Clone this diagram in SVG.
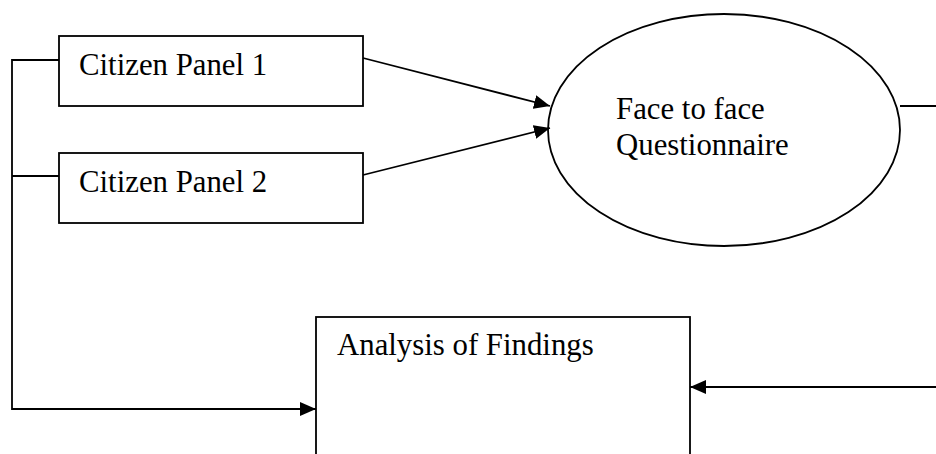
<svg xmlns="http://www.w3.org/2000/svg" width="936" height="454" viewBox="0 0 936 454">
<style>
.shape{fill:#fff;stroke:#000;stroke-width:1.8}
.conn{fill:none;stroke:#000;stroke-width:1.8}
text{font-family:"Liberation Serif","Times New Roman",serif;font-size:30.8px;fill:#000}
</style>
<defs>
<marker id="arr" markerUnits="userSpaceOnUse" markerWidth="16" markerHeight="14" refX="16" refY="7" orient="auto">
<path d="M0,0 L16,7 L0,14 Z" fill="#000"/>
</marker>
</defs>
<rect width="936" height="454" fill="#fff"/>
<g id="panel1">
<rect class="shape" x="59" y="36" width="304" height="70"/>
<text x="79" y="75">Citizen Panel 1</text>
</g>
<g id="panel2">
<rect class="shape" x="59" y="153" width="304" height="70"/>
<text x="79" y="192">Citizen Panel 2</text>
</g>
<g id="questionnaire">
<ellipse class="shape" cx="724" cy="130" rx="176" ry="116"/>
<text x="616" y="119">Face to face</text>
<text x="616" y="155">Questionnaire</text>
</g>
<g id="analysis">
<rect class="shape" x="316" y="317" width="374" height="160"/>
<text x="337" y="355">Analysis of Findings</text>
</g>
<g id="connectors">
<path class="conn" d="M363,58 L550,106" marker-end="url(#arr)"/>
<path class="conn" d="M363,175 L550,128" marker-end="url(#arr)"/>
<path class="conn" d="M59,60 L12,60 L12,409 L316,409" marker-end="url(#arr)"/>
<path class="conn" d="M59,176 L12,176"/>
<path class="conn" d="M900,106 L945,106 L945,387 L690,387" marker-end="url(#arr)"/>
</g>
</svg>
